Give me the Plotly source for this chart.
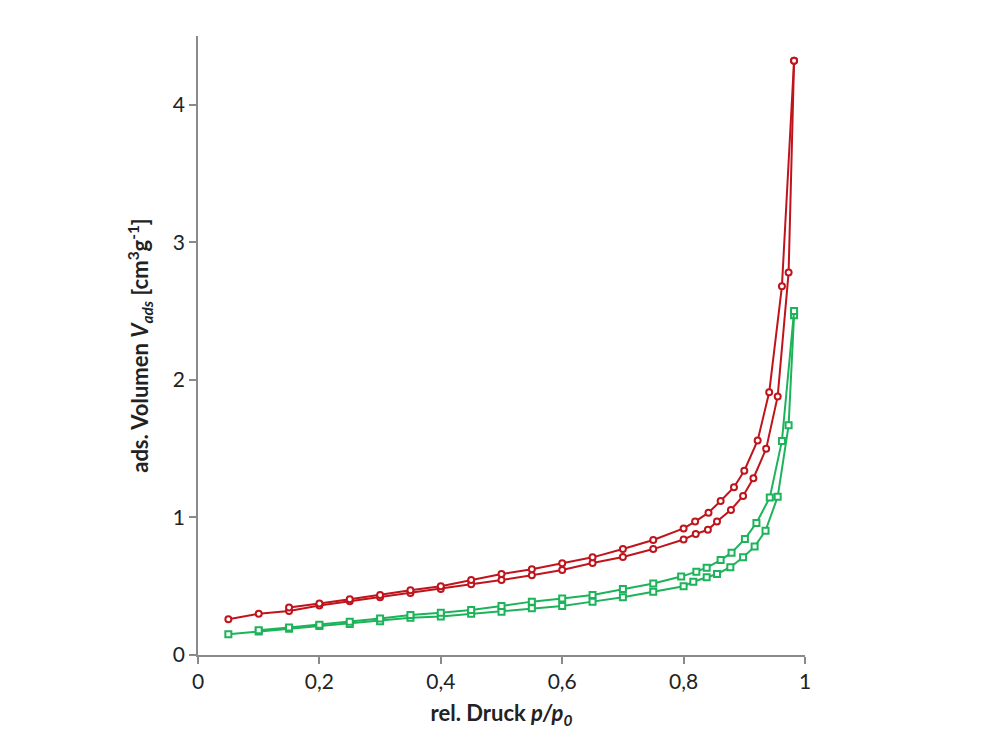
import plotly.graph_objects as go

# Red isotherm (circles)
red_ads_x = [0.05, 0.10, 0.15, 0.20, 0.25, 0.30, 0.35, 0.40, 0.45, 0.50, 0.55, 0.60, 0.65, 0.70, 0.75,
             0.80, 0.82, 0.84, 0.855, 0.878, 0.898, 0.915, 0.936, 0.955, 0.973, 0.982]
red_ads_y = [0.26, 0.30, 0.32, 0.36, 0.39, 0.42, 0.45, 0.48, 0.515, 0.545, 0.58, 0.618, 0.669, 0.713, 0.77,
             0.84, 0.88, 0.91, 0.97, 1.055, 1.156, 1.285, 1.50, 1.88, 2.78, 4.32]
red_des_x = [0.982, 0.962, 0.941, 0.922, 0.900, 0.883, 0.861, 0.841, 0.819, 0.80, 0.75, 0.70, 0.65, 0.60,
             0.55, 0.50, 0.45, 0.40, 0.35, 0.30, 0.25, 0.20, 0.15]
red_des_y = [4.32, 2.68, 1.91, 1.56, 1.34, 1.22, 1.12, 1.035, 0.97, 0.92, 0.836, 0.77, 0.71, 0.667,
             0.623, 0.589, 0.545, 0.50, 0.47, 0.436, 0.405, 0.375, 0.345]

# Green isotherm (squares)
green_ads_x = [0.05, 0.10, 0.15, 0.20, 0.25, 0.30, 0.35, 0.40, 0.45, 0.50, 0.55, 0.60, 0.65, 0.70, 0.75,
               0.80, 0.816, 0.838, 0.855, 0.877, 0.898, 0.917, 0.935, 0.955, 0.973, 0.982]
green_ads_y = [0.15, 0.17, 0.19, 0.21, 0.225, 0.245, 0.27, 0.28, 0.30, 0.315, 0.339, 0.356, 0.388, 0.42, 0.46,
               0.50, 0.533, 0.565, 0.589, 0.638, 0.71, 0.788, 0.904, 1.15, 1.67, 2.47]
green_des_x = [0.982, 0.962, 0.942, 0.920, 0.901, 0.879, 0.861, 0.838, 0.821, 0.796, 0.75, 0.70, 0.65, 0.60,
               0.55, 0.50, 0.45, 0.40, 0.35, 0.30, 0.25, 0.20, 0.15, 0.10]
green_des_y = [2.50, 1.556, 1.145, 0.96, 0.844, 0.744, 0.69, 0.635, 0.606, 0.57, 0.52, 0.48, 0.436, 0.41,
               0.388, 0.356, 0.327, 0.308, 0.29, 0.265, 0.242, 0.22, 0.20, 0.18]

x_ticks = [0, 0.2, 0.4, 0.6, 0.8, 1]
x_ticktext = ["0", "0,2", "0,4", "0,6", "0,8", "1"]
y_ticks = [0, 1, 2, 3, 4]

RED = "#C0141C"
GREEN = "#1DB35A"

fig = go.Figure()

def add(xs, ys, color, symbol):
    fig.add_trace(go.Scatter(
        x=xs, y=ys, mode="lines+markers",
        line=dict(color=color, width=2),
        marker=dict(symbol=symbol, size=6, color="white",
                    line=dict(color=color, width=2)),
        showlegend=False))

add(red_ads_x, red_ads_y, RED, "circle")
add(red_des_x, red_des_y, RED, "circle")
add(green_ads_x, green_ads_y, GREEN, "square")
add(green_des_x, green_des_y, GREEN, "square")

font_family = "Lato, 'Open Sans', sans-serif"

fig.update_layout(
    width=1000, height=750,
    margin=dict(l=198, r=195, t=36, b=95),
    paper_bgcolor="white", plot_bgcolor="white",
    font=dict(family=font_family, color="#222", size=21),
    xaxis=dict(
        range=[0, 1], tickvals=x_ticks, ticktext=x_ticktext,
        showgrid=False, zeroline=False, showline=True, linecolor="#8a8a8a", linewidth=1.5,
        ticks="outside", ticklen=7, tickcolor="#8a8a8a", tickwidth=1.5,
        tickfont=dict(size=21),
        title=dict(text="<b>rel. Druck <i>p/p</i><sub><i>0</i></sub></b>", font=dict(size=22), standoff=14),
    ),
    yaxis=dict(
        range=[0, 4.5], tickvals=y_ticks,
        showgrid=False, zeroline=False, showline=True, linecolor="#8a8a8a", linewidth=1.5,
        ticks="outside", ticklen=7, tickcolor="#8a8a8a", tickwidth=1.5,
        tickfont=dict(size=21),
        title=dict(text="<b>ads. Volumen <i>V</i><sub><i>ads</i></sub> [cm<sup>3</sup>g<sup>-1</sup>]</b>",
                   font=dict(size=22), standoff=18),
    ),
)

fig.write_html("out.html")
